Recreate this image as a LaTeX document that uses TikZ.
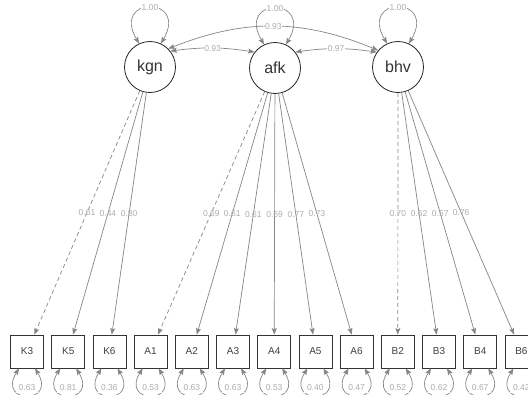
\documentclass[tikz,border=0pt]{standalone}
\usepackage{fontspec}
\setmainfont{Liberation Sans}
\usetikzlibrary{arrows.meta}
\begin{document}
\begin{tikzpicture}[x=1pt,y=-1pt,
  tip/.tip={Stealth[length=6.5pt,width=5pt,inset=1.2pt]},
  lat/.style={circle,draw=black!85,line width=0.8pt,minimum size=51pt,inner sep=0pt,font=\fontsize{16}{16}\selectfont,text=black!80},
  obs/.style={rectangle,draw=black!80,line width=0.8pt,minimum size=33pt,inner sep=0pt,font=\fontsize{10}{10}\selectfont,text=black!75},
  edge/.style={draw=gray!95,line width=0.7pt,-tip},
  fixed/.style={edge,dash pattern=on 4pt off 3pt},
  dbl/.style={draw=gray!95,line width=0.7pt,tip-tip},
  elab/.style={font=\fontsize{8.5}{8.5}\selectfont,text=gray!65,inner sep=0.5pt},
  bglab/.style={elab,fill=white}
]
\useasboundingbox (0,0) rectangle (528,394);
\clip (0,0) rectangle (528,394);
\fill[white] (0,0) rectangle (528,394);
% latent variables
\node[lat] (kgn) at (150,67) {kgn};
\node[lat] (afk) at (275,68) {afk};
\node[lat] (bhv) at (398,67) {bhv};
% indicators
\foreach \n [count=\i from 0] in {K3,K5,K6,A1,A2,A3,A4,A5,A6,B2,B3,B4,B6}
  \node[obs] (\n) at ({27+41.2*\i},351.5) {\n};
% loadings
\draw[fixed] (kgn) -- node[elab]{0.61} (K3);
\draw[edge] (kgn) -- node[elab]{0.44} (K5);
\draw[edge] (kgn) -- node[elab]{0.80} (K6);
\draw[fixed] (afk) -- node[elab]{0.69} (A1);
\draw[edge] (afk) -- node[elab]{0.61} (A2);
\draw[edge] (afk) -- node[elab]{0.61} (A3);
\draw[edge] (afk) -- node[elab]{0.69} (A4);
\draw[edge] (afk) -- node[elab]{0.77} (A5);
\draw[edge] (afk) -- node[elab]{0.73} (A6);
\draw[fixed] (bhv) -- node[elab]{0.70} (B2);
\draw[edge] (bhv) -- node[elab]{0.62} (B3);
\draw[edge] (bhv) -- node[elab]{0.57} (B4);
\draw[edge] (bhv) -- node[elab]{0.76} (B6);
% latent variances
\foreach \n in {kgn,afk,bhv}
  \draw[dbl] (\n.115) .. controls +(-28,-48) and +(28,-48) .. (\n.65) node[pos=0.5,bglab]{1.00};
% covariances
\draw[dbl] (kgn.45) to[bend left=22] node[bglab]{0.93} (bhv.140);
\draw[dbl] (kgn.38) to[bend left=8] node[bglab]{0.93} (afk.142);
\draw[dbl] (afk.38) to[bend left=8] node[bglab]{0.97} (bhv.145);
% residual variances
\foreach \n/\v in {K3/0.63,K5/0.81,K6/0.36,A1/0.53,A2/0.63,A3/0.63,A4/0.53,A5/0.40,A6/0.47,B2/0.52,B3/0.62,B4/0.67,B6/0.42}{
  \draw[dbl] ([xshift=-8pt]\n.south) .. controls +(-22,36) and +(22,36) .. ([xshift=8pt]\n.south);
  \path (\n.south) ++(0,19.5) node[bglab,minimum width=22pt,minimum height=10pt]{\v};
}
\end{tikzpicture}
\end{document}
